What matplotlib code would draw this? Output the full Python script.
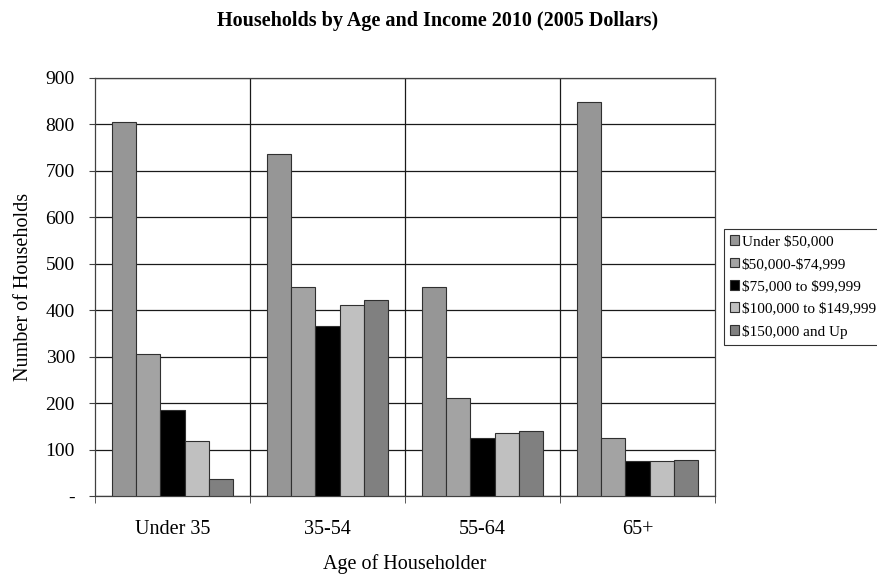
import numpy as np
import matplotlib
matplotlib.use('Agg')
import matplotlib.pyplot as plt

plt.rcParams['font.family'] = ['Liberation Serif', 'DejaVu Serif']

# data
age_groups = ['Under 35', '35-54', '55-64', '65+']
series_names = [r'Under \$50,000', r'\$50,000-\$74,999', r'\$75,000 to \$99,999',
                r'\$100,000 to \$149,999', r'\$150,000 and Up']
under_50k = [806, 736, 451, 848]
k50_75 = [306, 451, 210, 125]
k75_100 = [185, 366, 125, 75]
k100_150 = [119, 411, 136, 75]
k150_up = [36, 423, 141, 77]
y_ticks = [0, 100, 200, 300, 400, 500, 600, 700, 800, 900]
y_ticklabels = ['-', '100', '200', '300', '400', '500', '600', '700', '800', '900']

values = [under_50k, k50_75, k75_100, k100_150, k150_up]
bar_colors = ['#969696', '#a3a3a3', '#000000', '#c0c0c0', '#808080']

fig = plt.figure(figsize=(8.77, 5.75), dpi=100)
ax = fig.add_axes([95/877, 79/575, 620/877, 418/575])

x = np.arange(len(age_groups))
w = 0.155
for i, (vals, name, c) in enumerate(zip(values, series_names, bar_colors)):
    ax.bar(x + (i - 2) * w, vals, width=w, color=c, edgecolor='#303030',
           linewidth=0.8, label=name, zorder=3)

ax.set_xlim(-0.5, 3.5)
ax.set_ylim(0, 900)
ax.set_yticks(y_ticks)
ax.set_yticklabels(y_ticklabels, fontsize=14)
ax.yaxis.grid(True, color='#1a1a1a', linewidth=0.9, zorder=0)

# category boundaries: ticks and vertical gridlines
ax.set_xticks(x)
ax.set_xticklabels(age_groups, fontsize=14.5)
ax.tick_params(axis='x', which='major', length=0, pad=17)
ax.set_xticks(np.arange(-0.5, 4, 1), minor=True)
ax.tick_params(axis='x', which='minor', length=5, color='#404040')
ax.tick_params(axis='y', length=4.5, color='#404040', pad=10)
for b in [0.5, 1.5, 2.5]:
    ax.axvline(b, color='#1a1a1a', linewidth=0.9, zorder=1)

for s in ['left', 'bottom', 'right', 'top']:
    ax.spines[s].set_color('#404040')
    ax.spines[s].set_linewidth(0.9)

ax.set_ylabel('Number of Households', fontsize=14.5, labelpad=9)
ax.set_xlabel('Age of Householder', fontsize=14.5, labelpad=11)
fig.text(438/877, 1 - 21/575, 'Households by Age and Income 2010 (2005 Dollars)',
         ha='center', va='center', fontsize=14.5, fontweight='bold')

leg = fig.legend(loc='upper left', bbox_to_anchor=(724/877, 1 - 229/575),
                 fontsize=11, frameon=True, fancybox=False, edgecolor='black',
                 handlelength=0.6, handleheight=0.6, handletextpad=0.15,
                 borderpad=0.4, labelspacing=0.6, borderaxespad=0)
leg.get_frame().set_linewidth(0.8)

fig.savefig('out.png', dpi=100)
